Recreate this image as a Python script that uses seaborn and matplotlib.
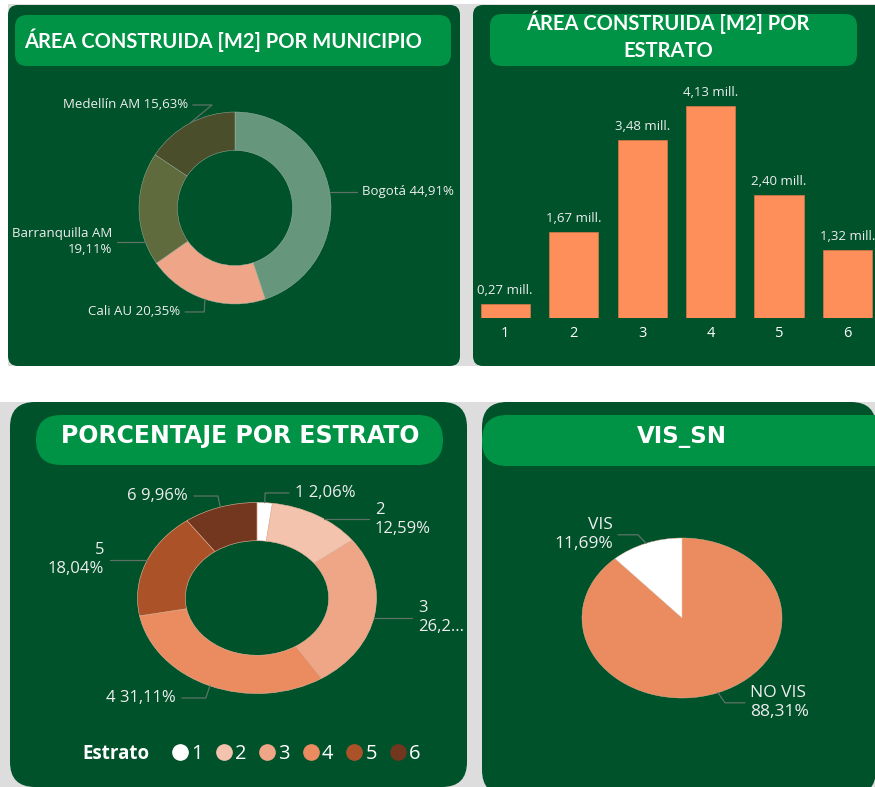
import numpy as np
import pandas as pd
import matplotlib.pyplot as plt
import seaborn as sns
from matplotlib.patches import FancyBboxPatch
from matplotlib.lines import Line2D

# data
municipios = ["Bogotá", "Cali AU", "Barranquilla AM", "Medellín AM"]
municipio_pct = [44.91, 20.35, 19.11, 15.63]
municipio_labels = ["Bogotá 44,91%", "Cali AU 20,35%", "Barranquilla AM\n19,11%", "Medellín AM 15,63%"]

estratos = ["1", "2", "3", "4", "5", "6"]
area_mill = [0.27, 1.67, 3.48, 4.13, 2.40, 1.32]

estrato_pct = [2.06, 12.59, 26.24, 31.11, 18.04, 9.96]
estrato_labels = ["1 2,06%", "2\n12,59%", "3\n26,2...", "4 31,11%", "5\n18,04%", "6 9,96%"]

vis_names = ["NO VIS", "VIS"]
vis_pct = [88.31, 11.69]
vis_labels = ["NO VIS\n88,31%", "VIS\n11,69%"]

# colours
DARK = "#00522A"
PILL = "#009245"
GRAY = "#DDDDDD"
TXT = "#EEEEEE"
LEAD = "#5E7366"
mun_colors = ["#66967B", "#EFA688", "#5F6A3D", "#4A4E2B"]
bar_color = "#FE8F5A"
estrato_colors = ["#FFFFFF", "#F4C3AD", "#EFA687", "#EB8B60", "#AC5229", "#73361E"]
vis_colors = ["#EB8B60", "#FFFFFF"]

sns.set_theme(style="white")
plt.rcParams['font.family'] = ['Open Sans', 'DejaVu Sans']

W, H = 875, 787
fig = plt.figure(figsize=(W / 100, H / 100), dpi=100, facecolor="white")

# background layer in pixel coordinates
bg = fig.add_axes([0, 0, 1, 1])
bg.set_xlim(0, W)
bg.set_ylim(H, 0)
bg.axis("off")
bg.set_zorder(0)


def box(x0, y0, x1, y1, r, color):
    bg.add_patch(FancyBboxPatch((x0, y0), x1 - x0, y1 - y0,
                                boxstyle=f"round,pad=0,rounding_size={r}",
                                fc=color, ec="none"))


bg.add_patch(plt.Rectangle((8, 4), W - 8, 362, fc=GRAY, ec="none"))
bg.add_patch(plt.Rectangle((0, 402), W, H - 402, fc=GRAY, ec="none"))
box(8, 5, 460, 366, 10, DARK)
box(473, 5, 895, 366, 10, DARK)
box(10, 402, 467, 787, 25, DARK)
box(482, 402, 876, 795, 25, DARK)
box(15, 15, 451, 66, 12, PILL)
box(490, 14, 857, 66, 12, PILL)
box(36, 415, 443, 465, 25, PILL)
box(482, 415, 905, 466, 25, PILL)

bg.text(24, 40, "ÁREA CONSTRUIDA [M2] POR MUNICIPIO", color="white", fontsize=14.5,
        fontweight="bold", family="Lato", va="center", ha="left")
bg.text(668, 36, "ÁREA CONSTRUIDA [M2] POR\nESTRATO", color="white", fontsize=14.5,
        fontweight="bold", family="Lato", va="center", ha="center", linespacing=1.45)
bg.text(240, 436, "PORCENTAJE POR ESTRATO", color="white", fontsize=17,
        fontweight="bold", family="DejaVu Sans", va="center", ha="center")
bg.text(682, 437, "VIS_SN", color="white", fontsize=16.5,
        fontweight="bold", family="DejaVu Sans", va="center", ha="center")


def pie_axes(cx, cy, rx, ry):
    ax = fig.add_axes([(cx - rx) / W, (H - cy - ry) / H, 2 * rx / W, 2 * ry / H])
    ax.set_zorder(1)
    return ax


def finish_pie(ax):
    ax.set_aspect("auto")
    ax.set_xlim(-1, 1)
    ax.set_ylim(-1, 1)
    ax.axis("off")


def edge_point(w, ty, ha):
    # horizontal leader if the label row cuts the wedge, otherwise wedge middle
    if abs(ty) < 1:
        a = np.degrees(np.arcsin(ty))
        cand = a if ha == "left" else 180 - a
        for k in range(-2, 3):
            ang = cand + 360 * k
            if w.theta1 <= ang <= w.theta2:
                return np.cos(np.radians(ang)), ty
    mid = np.radians((w.theta1 + w.theta2) / 2)
    return np.cos(mid), np.sin(mid)


def label_pie(ax, wedges, labels, pos, fs, gap=0.05, L=0.2):
    for w, t, (tx, ty, ha) in zip(wedges, labels, pos):
        ex, ey = edge_point(w, ty, ha)
        s = 1 if ha == "right" else -1
        x0 = tx + s * gap
        x1 = x0 + s * L
        ax.plot([x0, x1, ex], [ty, ty, ey], color=LEAD, lw=0.9, clip_on=False)
        ax.text(tx, ty, t, ha=ha, va="center", multialignment=ha, color=TXT,
                fontsize=fs, clip_on=False, linespacing=1.25)


# panel 1: donut by municipio
ax1 = pie_axes(235, 208, 96, 96)
w1, _ = ax1.pie(municipio_pct, colors=mun_colors, startangle=90, counterclock=False,
                wedgeprops=dict(width=0.4, edgecolor="#A9B9AE", linewidth=0.3))
finish_pie(ax1)
label_pie(ax1, w1, municipio_labels,
          [(1.32, 0.167, "left"), (-0.57, -1.083, "right"),
           (-1.28, -0.35, "right"), (-0.49, 1.073, "right")], fs=9.5)

# panel 2: bars by estrato
axb = fig.add_axes([471 / W, (H - 318) / H, 404 / W, 243 / H])
axb.set_zorder(1)
df = pd.DataFrame({"estrato": estratos, "area": area_mill})
sns.barplot(data=df, x="estrato", y="area", color=bar_color, saturation=1,
            width=0.72, ax=axb, edgecolor="#D9774A", linewidth=0.5)
axb.set_xlim(-0.5, 5.4)
axb.set_ylim(0, 4.74)
for p, v in zip(axb.patches, area_mill):
    axb.annotate(f"{v:.2f} mill.".replace(".", ",", 1),
                 (p.get_x() + p.get_width() / 2, p.get_height()),
                 xytext=(0, 5), textcoords="offset points", ha="center", va="bottom",
                 color=TXT, fontsize=9.5, annotation_clip=False)
axb.set_facecolor("none")
axb.set_yticks([])
axb.set_xlabel("")
axb.set_ylabel("")
axb.tick_params(axis="x", colors="white", labelsize=10.5, length=0, pad=6)
for sp in axb.spines.values():
    sp.set_visible(False)

# panel 3: donut by estrato
ax3 = pie_axes(257, 598, 119.5, 95.5)
w3, _ = ax3.pie(estrato_pct, colors=estrato_colors, startangle=90, counterclock=False,
                wedgeprops=dict(width=0.4, edgecolor="#E9B79E", linewidth=0.4))
finish_pie(ax3)
label_pie(ax3, w3, estrato_labels,
          [(0.318, 1.10, "left"), (0.987, 0.827, "left"), (1.347, -0.209, "left"),
           (-0.678, -1.047, "right"), (-1.28, 0.398, "right"), (-0.577, 1.068, "right")],
          fs=12)

bg.text(82, 754, "Estrato", color="white", fontsize=13.5, fontweight="bold",
        va="center", ha="left")
handles = [Line2D([], [], marker="o", ls="", markersize=11, markerfacecolor=c,
                  markeredgecolor=c) for c in estrato_colors]
fig.legend(handles, estratos, loc="center left", bbox_to_anchor=(170 / W, 1 - 754 / H),
           ncol=6, frameon=False, handletextpad=0.05, columnspacing=0.54,
           handlelength=1.0, labelcolor="white", fontsize=14.5,
           borderpad=0, borderaxespad=0)

# panel 4: VIS pie
ax4 = pie_axes(682, 618, 100, 80)
w4, _ = ax4.pie(vis_pct, colors=vis_colors, startangle=90, counterclock=False,
                wedgeprops=dict(edgecolor="#E9B79E", linewidth=0.3))
finish_pie(ax4)
label_pie(ax4, w4, vis_labels, [(0.68, -1.06, "left"), (-0.69, 1.04, "right")], fs=12.5)

fig.savefig("out.png", dpi=100, facecolor="white")
